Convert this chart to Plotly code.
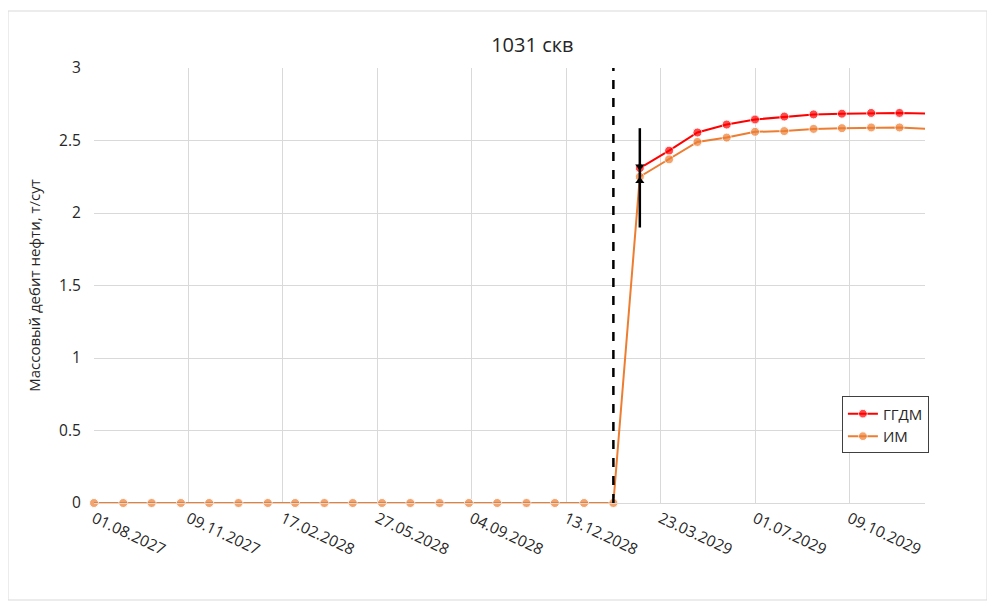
import plotly.graph_objects as go
import pandas as pd

# ---- data ----
dates = pd.date_range("2027-08-01", "2030-01-01", freq="MS").strftime("%Y-%m-%d").tolist()

im_values = [0.0] * 19 + [2.25, 2.37, 2.49, 2.52, 2.56, 2.565, 2.58, 2.585, 2.59, 2.59, 2.58]
ggdm_values = [None] * 19 + [2.31, 2.43, 2.555, 2.61, 2.645, 2.665, 2.68, 2.685, 2.69, 2.69, 2.685]

start_date = "2029-02-01"          # dashed vertical marker date
start_y = [0, 3]

err_date = "2029-03-01"
err_low, err_high = 1.90, 2.585
err_arrow_down, err_arrow_up = 2.32, 2.22

series_names = ["ГГДМ", "ИМ"]
title_text = "1031 скв"
y_title = "Массовый дебит нефти, т/сут"

x_range = ["2027-08-01", "2029-12-28"]
y_range = [0, 3]

# ---- figure ----
fig = go.Figure()

fig.add_trace(go.Scatter(
    x=dates, y=ggdm_values, name=series_names[0], mode="lines+markers",
    line=dict(color="#ff0000", width=2), marker=dict(color="#ff0000", size=9),
    cliponaxis=False, connectgaps=False,
    marker_size=[9] * (len(dates) - 1) + [0],
))
fig.add_trace(go.Scatter(
    x=dates, y=im_values, name=series_names[1], mode="lines+markers",
    line=dict(color="#ed7d31", width=2), marker=dict(color="#ed7d31", size=9),
    cliponaxis=False,
    marker_size=[9] * (len(dates) - 1) + [0],
))

# dashed vertical line
fig.add_trace(go.Scatter(
    x=[start_date, start_date], y=start_y, mode="lines",
    line=dict(color="black", width=2.5, dash="dash"), showlegend=False,
    hoverinfo="skip",
))

# error bar
fig.add_trace(go.Scatter(
    x=[err_date, err_date], y=[err_low, err_high], mode="lines",
    line=dict(color="black", width=2.5), showlegend=False, hoverinfo="skip",
))
fig.add_trace(go.Scatter(
    x=[err_date, err_date], y=[err_arrow_down, err_arrow_up], mode="markers",
    marker=dict(symbol=["triangle-down", "triangle-up"], size=8, color="black"),
    showlegend=False, hoverinfo="skip", cliponaxis=False,
))

fig.update_layout(
    width=995, height=606,
    margin=dict(l=86, r=78, t=60, b=111),
    paper_bgcolor="white", plot_bgcolor="white",
    font=dict(family="Open Sans, DejaVu Sans, sans-serif", size=15, color="#262626"),
    title=dict(text=title_text, x=0.527, xanchor="center", y=0.939, yanchor="middle",
               font=dict(size=20, color="#262626")),
    showlegend=True,
    legend=dict(x=0.9, y=0.245, xanchor="left", yanchor="top",
                bordercolor="#404040", borderwidth=1, bgcolor="white",
                font=dict(size=15), itemwidth=30, tracegroupgap=0),
)

fig.update_xaxes(
    type="date", range=x_range, tick0="2027-08-01", dtick=100 * 86400000,
    tickformat="%d.%m.%Y", tickangle=25, showgrid=True, gridcolor="#d9d9d9",
    gridwidth=1, showline=True, linecolor="#d9d9d9", linewidth=1,
    ticks="", zeroline=False, tickfont=dict(size=15.5), automargin=False,
)
fig.update_yaxes(
    range=y_range, dtick=0.5, showgrid=True, gridcolor="#d9d9d9", gridwidth=1,
    showline=False, zeroline=False, ticks="", automargin=False,
    title=dict(text=y_title, font=dict(size=15), standoff=14),
    tickfont=dict(size=15.5), ticksuffix="   ",
)

# chart-area border
fig.add_shape(type="rect", xref="paper", yref="paper",
              x0=(8 - 94) / 831, x1=(987 - 94) / 831,
              y0=(503 - 600) / 435, y1=(503 - 11) / 435,
              line=dict(color="#d9d9d9", width=1), layer="below")

fig.write_html("out.html")
